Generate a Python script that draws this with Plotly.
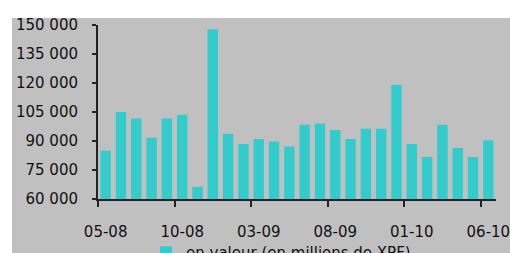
import plotly.graph_objects as go

months = ["05-08", "06-08", "07-08", "08-08", "09-08", "10-08", "11-08", "12-08",
          "01-09", "02-09", "03-09", "04-09", "05-09", "06-09", "07-09", "08-09",
          "09-09", "10-09", "11-09", "12-09", "01-10", "02-10", "03-10", "04-10",
          "05-10", "06-10"]
valeur = [85000, 105000, 101700, 91700, 101700, 103600, 66400, 147800,
          93800, 88500, 91000, 89700, 87100, 98400, 99000, 95700,
          91000, 96300, 96400, 119000, 88500, 81700, 98400, 86400,
          81700, 90400]
series_name = "en valeur (en millions de XPF)"
y_ticks = [60000, 75000, 90000, 105000, 120000, 135000, 150000]

W, H = 510, 253
L, R, T, B = 98, 14, 25, 54
pw, ph = W - L - R, H - T - B

def px_x(px):
    return (px - L) / pw

def px_y(py):
    return (H - B - py) / ph

fig = go.Figure()
fig.add_trace(go.Bar(x=months, y=valeur, name=series_name,
                     marker=dict(color="#33CCCC", line=dict(width=0))))

font = dict(family="DejaVu Sans", size=15, color="#111111")

fig.update_layout(
    width=W, height=H,
    margin=dict(l=L, r=R, t=T, b=B, pad=0, autoexpand=False),
    paper_bgcolor="#C0C0C0", plot_bgcolor="#C0C0C0",
    separators=", ",
    font=font,
    bargap=0.32,
    showlegend=True,
    legend=dict(orientation="h", x=px_x(146), xanchor="left", y=px_y(236), yanchor="top",
                bgcolor="rgba(0,0,0,0)", font=font, itemwidth=30),
    xaxis=dict(type="category", tickson="boundaries", dtick=5, ticks="outside", ticklen=6,
               tickwidth=1.5, tickcolor="#222222", showline=True, linecolor="#222222",
               linewidth=2, showgrid=False, zeroline=False, tickangle=0,
               ticklabelstandoff=18, range=[-0.5, 25.5], automargin=False),
    yaxis=dict(range=[60000, 150000], tickvals=y_ticks, tickformat=",d", ticks="outside",
               ticklen=4, tickwidth=1.5, tickcolor="#222222", showline=True,
               linecolor="#222222", linewidth=2, showgrid=False, zeroline=False,
               ticklabelstandoff=11, automargin=False),
    shapes=[
        dict(type="rect", xref="paper", yref="paper", x0=px_x(-5), x1=px_x(W + 5),
             y0=px_y(18), y1=px_y(-5), fillcolor="white", line=dict(width=0), layer="below"),
        dict(type="rect", xref="paper", yref="paper", x0=px_x(-5), x1=px_x(12),
             y0=px_y(H + 5), y1=px_y(-5), fillcolor="white", line=dict(width=0), layer="below"),
    ],
)

fig.write_html("out.html", config={"displayModeBar": False},
               post_script="document.body.style.margin='0';")
